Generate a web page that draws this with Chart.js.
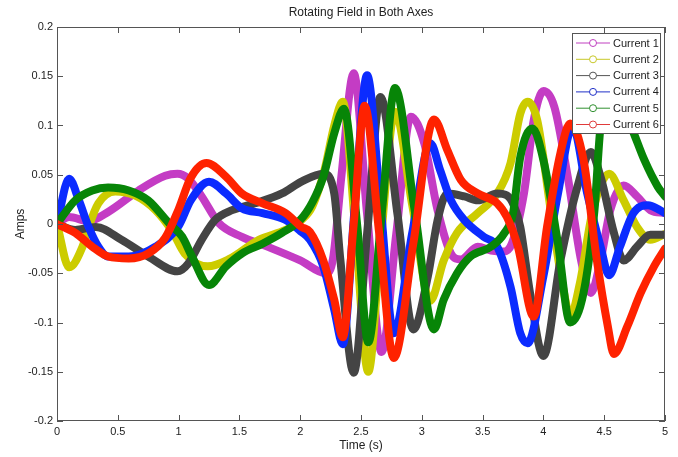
<!DOCTYPE html>
<html>
<head>
<meta charset="utf-8">
<script src="https://cdn.jsdelivr.net/npm/chart.js@4.4.1/dist/chart.umd.min.js"></script>
<style>
  html, body { margin: 0; padding: 0; background: #fff; }
  #wrap { width: 678px; height: 457px; }
</style>
</head>
<body>
<div id="wrap"><canvas id="fieldChart" width="678" height="457"></canvas></div>
<script>
// values (time in s, current in A)
const seriesNames = ['Current 1', 'Current 2', 'Current 3', 'Current 4', 'Current 5', 'Current 6'];

const t1 = [0, 0.1, 0.26, 0.43, 0.67, 0.89, 0.99, 1.08, 1.19, 1.33, 1.52, 1.73, 2.0, 2.21, 2.27, 2.34, 2.44, 2.55, 2.67, 2.79, 2.91, 3.02, 3.13, 3.24, 3.32, 3.46, 3.57, 3.67, 3.74, 3.84, 3.92, 4.0, 4.09, 4.2, 4.31, 4.39, 4.47, 4.55, 4.66, 4.77, 4.88, 5.0];
const current1 = [0, 0.007, 0.003, 0.013, 0.034, 0.049, 0.051, 0.046, 0.028, 0.001, -0.013, -0.023, -0.037, -0.05, -0.035, 0.05, 0.153, 0.01, -0.13, -0.01, 0.109, 0.082, 0.014, -0.03, -0.036, -0.023, -0.027, -0.028, -0.02, 0.031, 0.105, 0.135, 0.119, 0.048, -0.037, -0.07, -0.037, 0.014, 0.039, 0.028, 0.014, 0.011];

const t2 = [0, 0.1, 0.21, 0.26, 0.34, 0.48, 0.64, 0.81, 0.95, 1.05, 1.24, 1.41, 1.66, 1.88, 2.01, 2.1, 2.2, 2.28, 2.35, 2.45, 2.56, 2.66, 2.78, 2.92, 3.07, 3.18, 3.29, 3.46, 3.62, 3.73, 3.81, 3.87, 3.95, 4.06, 4.17, 4.22, 4.3, 4.4, 4.54, 4.66, 4.77, 4.88, 5.0];
const current2 = [0, -0.044, -0.023, -0.003, 0.021, 0.033, 0.029, 0.014, -0.008, -0.03, -0.043, -0.036, -0.016, -0.006, 0.004, 0.018, 0.055, 0.1, 0.124, 0.0, -0.15, -0.02, 0.114, 0.02, -0.078, -0.037, -0.009, 0.011, 0.031, 0.062, 0.112, 0.124, 0.105, 0.014, -0.07, -0.094, -0.06, 0.01, 0.051, 0.024, -0.003, -0.016, -0.01];

const t3 = [0, 0.15, 0.32, 0.53, 0.75, 0.99, 1.08, 1.19, 1.3, 1.44, 1.63, 1.85, 2.01, 2.19, 2.28, 2.33, 2.44, 2.55, 2.66, 2.8, 2.93, 3.05, 3.13, 3.21, 3.35, 3.46, 3.62, 3.7, 3.76, 3.81, 3.89, 4.0, 4.14, 4.28, 4.39, 4.47, 4.58, 4.66, 4.77, 4.88, 5.0];
const current3 = [0, -0.006, -0.003, -0.016, -0.033, -0.048, -0.04, -0.016, 0.004, 0.014, 0.021, 0.031, 0.043, 0.051, 0.031, -0.036, -0.151, -0.01, 0.129, 0.01, -0.107, -0.053, 0.004, 0.031, 0.028, 0.024, 0.031, 0.029, 0.018, -0.003, -0.07, -0.134, -0.037, 0.038, 0.073, 0.048, -0.009, -0.037, -0.023, -0.011, -0.011];

const t4 = [0, 0.1, 0.18, 0.26, 0.34, 0.42, 0.59, 0.81, 1.0, 1.1, 1.25, 1.39, 1.52, 1.69, 1.88, 2.01, 2.08, 2.19, 2.28, 2.35, 2.45, 2.55, 2.66, 2.77, 2.92, 3.07, 3.15, 3.24, 3.35, 3.51, 3.62, 3.73, 3.81, 3.87, 4.0, 4.12, 4.24, 4.36, 4.47, 4.54, 4.63, 4.74, 4.86, 4.96, 5.0];
const current4 = [0, 0.046, 0.024, -0.003, -0.023, -0.033, -0.033, -0.023, -0.002, 0.024, 0.043, 0.031, 0.016, 0.011, 0.004, -0.008, -0.016, -0.043, -0.087, -0.122, 0.02, 0.151, 0.02, -0.111, -0.01, 0.082, 0.055, 0.024, 0.004, -0.013, -0.023, -0.064, -0.111, -0.121, -0.053, 0.031, 0.099, 0.031, -0.023, -0.052, -0.023, 0.011, 0.019, 0.014, 0.011];

const t5 = [0, 0.04, 0.15, 0.29, 0.42, 0.59, 0.75, 0.92, 1.03, 1.11, 1.25, 1.39, 1.52, 1.69, 1.85, 2.0, 2.1, 2.19, 2.28, 2.36, 2.47, 2.56, 2.67, 2.78, 2.94, 3.1, 3.18, 3.29, 3.4, 3.57, 3.68, 3.75, 3.81, 3.91, 4.0, 4.12, 4.22, 4.33, 4.42, 4.47, 4.57, 4.72, 4.83, 4.94, 5.0];
const current5 = [0, 0.007, 0.024, 0.034, 0.037, 0.034, 0.024, 0.001, -0.013, -0.033, -0.062, -0.043, -0.03, -0.02, -0.009, 0.004, 0.022, 0.048, 0.092, 0.117, -0.003, -0.12, 0.01, 0.138, 0.015, -0.107, -0.077, -0.05, -0.033, -0.023, -0.009, 0.011, 0.068, 0.097, 0.065, -0.02, -0.1, -0.07, 0.014, 0.099, 0.135, 0.099, 0.065, 0.038, 0.028];

const t6 = [0, 0.15, 0.29, 0.42, 0.59, 0.75, 0.89, 1.0, 1.1, 1.23, 1.39, 1.52, 1.69, 1.88, 2.01, 2.08, 2.19, 2.28, 2.35, 2.44, 2.53, 2.65, 2.77, 2.93, 3.1, 3.21, 3.32, 3.46, 3.62, 3.7, 3.79, 3.92, 4.03, 4.14, 4.22, 4.33, 4.44, 4.53, 4.58, 4.69, 4.8, 4.91, 5.0];
const current6 = [0, -0.009, -0.023, -0.033, -0.035, -0.03, -0.014, 0.015, 0.047, 0.062, 0.048, 0.031, 0.021, 0.011, -0.003, -0.008, -0.037, -0.077, -0.115, 0.0, 0.12, -0.01, -0.136, -0.02, 0.106, 0.075, 0.045, 0.031, 0.021, 0.007, -0.023, -0.094, -0.003, 0.072, 0.102, 0.065, -0.037, -0.104, -0.132, -0.104, -0.07, -0.043, -0.025];

const xTicks = [0, 0.5, 1, 1.5, 2, 2.5, 3, 3.5, 4, 4.5, 5];
const yTicks = [-0.2, -0.15, -0.1, -0.05, 0, 0.05, 0.1, 0.15, 0.2];

const times = [t1, t2, t3, t4, t5, t6];
const currents = [current1, current2, current3, current4, current5, current6];
const lineColors = ['#c43cc4', '#cccc00', '#444444', '#0b2bff', '#078507', '#ff2200'];
const legendColors = ['#c040c0', '#c8c828', '#555555', '#2030c8', '#309030', '#e03a3a'];

const fontName = '"Liberation Sans", Arial, sans-serif';
const textColor = '#222';

// box round the axes, ticks pointing inwards, title and the legend
const matlabFrame = {
  id: 'matlabFrame',
  afterDatasetsDraw(chart) {
    const ctx = chart.ctx;
    const a = chart.chartArea;
    const xs = chart.scales.x, ys = chart.scales.y;
    ctx.save();
    ctx.strokeStyle = '#555';
    ctx.lineWidth = 1;
    ctx.strokeRect(a.left + 0.5, a.top + 0.5, a.right - a.left - 1, a.bottom - a.top - 1);
    ctx.beginPath();
    xTicks.forEach(v => {
      const px = Math.round(xs.getPixelForValue(v)) + 0.5;
      ctx.moveTo(px, a.bottom); ctx.lineTo(px, a.bottom - 6);
      ctx.moveTo(px, a.top); ctx.lineTo(px, a.top + 6);
    });
    yTicks.forEach(v => {
      const py = Math.round(ys.getPixelForValue(v)) + 0.5;
      ctx.moveTo(a.left, py); ctx.lineTo(a.left + 6, py);
      ctx.moveTo(a.right, py); ctx.lineTo(a.right - 6, py);
    });
    ctx.stroke();
    ctx.restore();
  },
  afterDraw(chart) {
    const ctx = chart.ctx;
    const a = chart.chartArea;
    ctx.save();
    ctx.fillStyle = textColor;
    ctx.font = '12px ' + fontName;
    ctx.textAlign = 'center';
    ctx.textBaseline = 'middle';
    ctx.fillText('Rotating Field in Both Axes', (a.left + a.right) / 2, 13);

    // legend
    const bx = a.right - 93, by = a.top + 6, bw = 88, bh = 100;
    ctx.fillStyle = '#fff';
    ctx.fillRect(bx, by, bw, bh);
    ctx.strokeStyle = '#555';
    ctx.lineWidth = 1;
    ctx.strokeRect(bx + 0.5, by + 0.5, bw, bh);
    ctx.font = '11px ' + fontName;
    ctx.textAlign = 'left';
    seriesNames.forEach((name, i) => {
      const y = by + 10 + i * 16.3;
      ctx.strokeStyle = legendColors[i];
      ctx.beginPath();
      ctx.moveTo(bx + 4, y); ctx.lineTo(bx + 38, y);
      ctx.stroke();
      ctx.beginPath();
      ctx.arc(bx + 21, y, 3.5, 0, Math.PI * 2);
      ctx.fillStyle = '#fff';
      ctx.fill();
      ctx.stroke();
      ctx.fillStyle = textColor;
      ctx.fillText(name, bx + 41, y + 0.5);
    });
    ctx.restore();
  }
};

new Chart(document.getElementById('fieldChart'), {
  type: 'scatter',
  data: {
    datasets: seriesNames.map((name, i) => ({
      label: name,
      data: times[i].map((t, k) => ({ x: t, y: currents[i][k] })),
      showLine: true,
      borderColor: lineColors[i],
      backgroundColor: lineColors[i],
      borderWidth: 8,
      pointRadius: 0,
      cubicInterpolationMode: 'monotone',
      borderCapStyle: 'round',
      borderJoinStyle: 'round',
      order: 6 - i
    }))
  },
  options: {
    responsive: false,
    animation: false,
    layout: { padding: { left: 0, right: 13, top: 27, bottom: 0 } },
    plugins: {
      legend: { display: false },
      tooltip: { enabled: false }
    },
    scales: {
      x: {
        type: 'linear',
        min: 0,
        max: 5,
        afterFit: s => { s.height = 36; },
        afterBuildTicks: s => { s.ticks = xTicks.map(v => ({ value: v })); },
        grid: { display: false, drawTicks: false },
        border: { display: false },
        ticks: {
          padding: 4,
          color: textColor,
          font: { size: 11, family: fontName },
          callback: v => String(v)
        },
        title: {
          display: true,
          text: 'Time (s)',
          color: textColor,
          font: { size: 12, family: fontName },
          padding: { top: 0, bottom: 4 }
        }
      },
      y: {
        type: 'linear',
        min: -0.2,
        max: 0.2,
        afterFit: s => { s.width = 57; },
        afterBuildTicks: s => { s.ticks = yTicks.map(v => ({ value: v })); },
        grid: { display: false, drawTicks: false },
        border: { display: false },
        ticks: {
          padding: 4,
          color: textColor,
          font: { size: 11, family: fontName },
          callback: v => String(Number(v.toFixed(2)))
        },
        title: {
          display: true,
          text: 'Amps',
          color: textColor,
          font: { size: 12, family: fontName },
          padding: { top: 13, bottom: 0 }
        }
      }
    }
  },
  plugins: [matlabFrame]
});
</script>
</body>
</html>
